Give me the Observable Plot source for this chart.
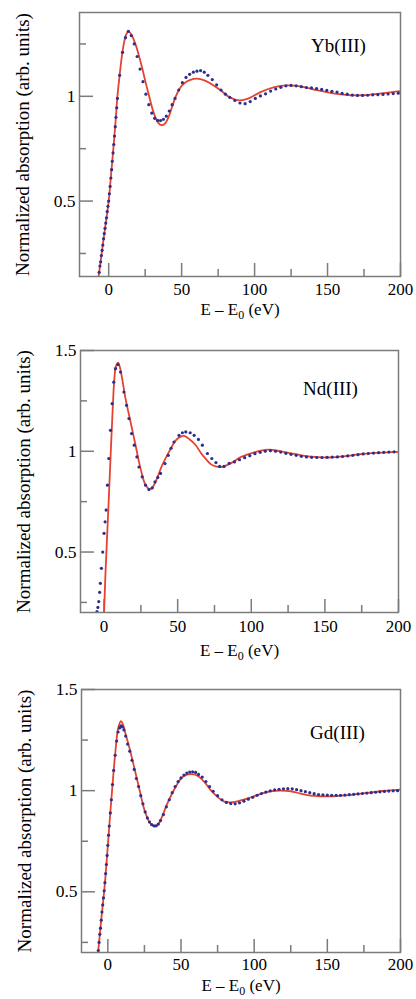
<!DOCTYPE html>
<html>
<head>
<meta charset="utf-8">
<script src="https://cdn.jsdelivr.net/npm/d3@7"></script>
<script src="https://cdn.jsdelivr.net/npm/@observablehq/plot@0.6"></script>
<style>
  html, body { margin: 0; padding: 0; background: #fff; }
  #chart svg { display: block; }
</style>
</head>
<body>
<div id="chart"></div>
<script>
// ---------- Tick values ----------
const xMajor = [0, 50, 100, 150, 200];
const xMinor = [25, 75, 125, 175];
const yMajorYb = [0.5, 1];
const yMajor = [0.5, 1, 1.5];
const yMinor = [0.25, 0.75, 1.25];

// ---------- Labels ----------
const names = ["Yb(III)", "Nd(III)", "Gd(III)"];
const YLABEL = "Normalized absorption (arb. units)";
const XLABEL = "E \u2013 E0 (eV)";

// ---------- Yb(III): calculation (red line) ----------
const calcE_Yb = [-7.5,-6.9,-4.8,-3,-1.5,0,1.5,3.2,4.5,6,7.5,9,10.5,12,13.7,15.5,18.3,20.5,22.8,25,27.4,30,32,34,36.1,38.5,41.1,43.5,45.7,48.5,51.4,56,60.5,66,70,76.7,83,89.3,96,104,113,122.4,133,143,155,165.8,174,181.7,190,200];
const calcV_Yb = [0.11,0.14,0.25,0.345,0.42,0.50,0.615,0.75,0.86,1.0,1.10,1.19,1.255,1.295,1.31,1.295,1.25,1.20,1.14,1.075,1.01,0.94,0.90,0.873,0.862,0.87,0.902,0.95,0.995,1.035,1.06,1.078,1.084,1.075,1.06,1.029,0.995,0.981,0.99,1.02,1.043,1.052,1.045,1.029,1.013,1.005,1.005,1.01,1.016,1.025];
// ---------- Yb(III): experiment (blue dots) ----------
const expE_Yb = [-6.5,-6,-5.5,-5,-4.5,-4,-3.5,-3,-2.5,-2,-1.5,-1,-0.5,0,0.5,1,1.5,2,2.5,3,3.5,4,4.5,5,5.5,6,
  7.5,9.5,11.5,13.5,15.5,17.5,19.5,21.5,23.5,25.5,27.5,29.5,31.5,33.5,35.5,37.5,39.5,41.5,43.5,45.5,
  48,50.5,53,55.5,58,60.5,63,65.5,68,71,74,77,80,83,86.5,90,93.5,97,100.5,104,
  107.5,111,114.5,118,121.5,125,128.5,132,135.5,139,142.5,146,149.5,153,156.5,160,163.5,167,170.5,174,177.5,181,184.5,188,191.5,195,198.5];
const expV_Yb = [0.16,0.19,0.21,0.24,0.265,0.29,0.32,0.345,0.37,0.395,0.42,0.45,0.475,0.50,0.535,0.57,0.61,0.65,0.69,0.73,0.77,0.81,0.855,0.90,0.945,0.99,
  1.10,1.21,1.28,1.31,1.29,1.25,1.19,1.13,1.07,1.01,0.96,0.92,0.895,0.885,0.884,0.89,0.905,0.93,0.96,0.99,
  1.03,1.065,1.09,1.105,1.115,1.12,1.123,1.115,1.10,1.08,1.055,1.03,1.01,0.995,0.98,0.968,0.965,0.975,0.99,1.002,
  1.012,1.025,1.035,1.043,1.05,1.052,1.05,1.046,1.042,1.04,1.037,1.033,1.028,1.024,1.02,1.014,1.01,1.006,1.004,1.004,1.005,1.007,1.008,1.009,1.011,1.013,1.015];

// ---------- Nd(III): calculation ----------
const calcE_Nd = [-0.5,0,1,2,3,4,5,6,7,8,9.5,11,12.3,14.6,18,21.4,24.8,28.2,30.9,33,35,39.5,44.1,48.7,51.5,54.3,58,62.3,66,69.1,72.7,75.9,79.5,86,93.2,102,111.4,120,127,134,143,152.3,160,168.3,176,184,192,200];
const calcV_Nd = [0.12,0.20,0.40,0.565,0.73,0.90,1.07,1.23,1.36,1.42,1.44,1.41,1.36,1.261,1.145,1.03,0.914,0.832,0.812,0.822,0.848,0.931,0.997,1.054,1.07,1.076,1.06,1.03,0.989,0.962,0.935,0.925,0.922,0.94,0.972,0.995,1.008,1.0,0.99,0.98,0.972,0.969,0.973,0.98,0.987,0.992,0.995,0.997];
// ---------- Nd(III): experiment ----------
const expE_Nd = [-4.8,-4.2,-3.6,-3,-2.5,-1.8,-0.9,0,0.7,1.4,2.3,3.2,4.4,5.5,6.6,7.8,9.5,11.2,13.5,15.3,
  16.9,18.7,20.5,22.3,23.7,25.9,28.2,30.5,32.7,34.6,36.5,38.4,41.4,43.6,45.5,47.5,50.9,53.2,55.5,58.5,
  61.2,64.1,66.8,70.2,73.2,76,78.5,81.5,85,88.6,92,95.5,99,102.5,106,109.5,113,116.5,120,123.5,
  127,130.5,134,137.5,141,144.5,148,151.5,155,158.5,162,165.5,169,172.5,176,179.5,183,186.5,190,193.5,197];
const expV_Nd = [0.205,0.225,0.254,0.30,0.345,0.419,0.50,0.593,0.65,0.708,0.832,0.964,1.104,1.236,1.343,1.41,1.43,1.393,1.294,1.228,
  1.162,1.088,1.03,0.972,0.922,0.873,0.832,0.81,0.818,0.848,0.87,0.89,0.939,0.98,1.015,1.046,1.079,1.092,1.096,1.092,
  1.079,1.059,1.03,0.989,0.964,0.944,0.925,0.925,0.94,0.947,0.958,0.968,0.978,0.988,0.995,1.0,1.003,1.0,0.996,0.99,
  0.985,0.98,0.975,0.972,0.97,0.969,0.969,0.97,0.971,0.972,0.974,0.977,0.98,0.983,0.987,0.989,0.991,0.993,0.995,0.996,0.997];

// ---------- Gd(III): calculation ----------
const calcE_Gd = [-7.5,-6.6,-4.4,-2.1,-0.3,1.4,3.2,5.2,7.1,8.9,10.2,11.6,13.3,15,18.5,21.9,25.3,28.8,32.2,34.5,36.7,41.3,45.9,50.4,54,57.3,60.5,63.2,66.5,70,73.3,79.2,84,88.4,94,99.7,105,111.2,118,124.9,131,138.6,146,154.5,163,172.8,180,186.5,193,200];
const calcV_Gd = [0.13,0.204,0.37,0.535,0.70,0.865,1.03,1.195,1.31,1.343,1.33,1.294,1.25,1.205,1.10,0.997,0.898,0.84,0.823,0.835,0.865,0.947,1.013,1.063,1.079,1.082,1.076,1.063,1.038,1.005,0.98,0.947,0.942,0.947,0.958,0.972,0.985,0.997,1.0,0.997,0.987,0.975,0.972,0.972,0.977,0.985,0.991,0.997,1.001,1.005];
// ---------- Gd(III): experiment ----------
const expE_Gd = [-6.5,-6,-5.5,-5,-4.5,-4,-3.5,-3,-2.5,-2,-1.5,-1,-0.5,0,0.5,1,1.7,2.4,3.2,4,
  5,6,7,8,9,10,11,12.2,13.5,15,16.5,18,19.5,21,22.5,24,25.5,27,28.5,30,
  31.5,33,34.5,36,38,40,42,44,46,48,50,52,54,56,58,60,62,64.5,67,69.5,
  72,75,78,81,84,87,90,93,96,99,102,105,108,111,114,117,120,123,126,129,
  132,135,138,141,144,147,150,153,156,159,162,165,168,171,174,177,180,183,186,189,192,195,198];
const expV_Gd = [0.21,0.25,0.29,0.32,0.36,0.40,0.435,0.47,0.505,0.545,0.59,0.635,0.68,0.73,0.78,0.825,0.89,0.955,1.03,1.10,
  1.175,1.245,1.29,1.31,1.32,1.315,1.30,1.27,1.23,1.195,1.15,1.105,1.06,1.02,0.975,0.935,0.895,0.865,0.845,0.832,
  0.826,0.826,0.835,0.852,0.882,0.92,0.955,0.99,1.02,1.045,1.063,1.077,1.087,1.092,1.093,1.09,1.08,1.067,1.045,1.02,
  0.997,0.975,0.955,0.942,0.936,0.935,0.94,0.948,0.958,0.967,0.977,0.986,0.993,0.999,1.004,1.007,1.009,1.01,1.009,1.005,
  1.0,0.995,0.99,0.985,0.981,0.979,0.978,0.977,0.977,0.977,0.978,0.98,0.982,0.984,0.986,0.988,0.99,0.992,0.994,0.996,0.998,0.999,1.0];

// ---------- Styling ----------
const SERIF = "'Liberation Serif', 'Times New Roman', Times, serif";
const GRAY = "#7b7b7b";
const RED = "#e5432f";
const BLUE = "#2c2f8e";

function zip(E, V) { return E.map((e, i) => ({e, v: V[i]})); }

function panel(cfg) {
  const width = 416;
  const ih = cfg.height - cfg.mt - cfg.mb;
  const iw = width - cfg.ml - cfg.mr;
  const svg = Plot.plot({
    width, height: cfg.height,
    marginTop: cfg.mt, marginBottom: cfg.mb, marginLeft: cfg.ml, marginRight: cfg.mr,
    x: {domain: cfg.xDomain, label: null},
    y: {domain: cfg.yDomain, label: null},
    style: {fontFamily: SERIF, background: "white", color: "black", overflow: "visible"},
    marks: [
      Plot.ruleX(xMajor, {insetTop: ih - 13, stroke: GRAY, strokeWidth: 1.5}),
      Plot.ruleX(xMinor, {insetTop: ih - 7, stroke: GRAY, strokeWidth: 1.5}),
      Plot.ruleY(cfg.yMajor, {insetRight: iw - 14, stroke: GRAY, strokeWidth: 1.5}),
      Plot.ruleY(yMinor.filter(d => d > cfg.yDomain[0] && d < cfg.yDomain[1]), {insetRight: iw - 7, stroke: GRAY, strokeWidth: 1.5}),
      Plot.axisX({ticks: xMajor, tickSize: 0, tickPadding: cfg.xPad, fontSize: 17, tickFormat: d => String(d), label: null, fill: "black"}),
      Plot.axisY({ticks: cfg.yMajor, tickSize: 0, tickPadding: 4, fontSize: 17.5, tickFormat: d => String(d), label: null, fill: "black"}),
      Plot.line(zip(cfg.calcE, cfg.calcV), {x: "e", y: "v", stroke: RED, strokeWidth: 1.8, curve: "catmull-rom", clip: true}),
      Plot.dot(zip(cfg.expE, cfg.expV), {x: "e", y: "v", r: 1.6, fill: BLUE, stroke: "none", clip: true}),
      Plot.frame({stroke: GRAY, strokeWidth: 1.5}),
      Plot.text([cfg.name], {frameAnchor: "top-right", dx: cfg.nameDx, dy: cfg.nameDy, textAnchor: "middle", lineAnchor: "middle", fontSize: 19, fill: "black"}),
      Plot.text([YLABEL], {frameAnchor: "left", rotate: -90, dx: -57, textAnchor: "middle", lineAnchor: "middle", fontSize: 19, fill: "black"}),
      Plot.text([XLABEL], {frameAnchor: "bottom", dy: cfg.xlabDy, textAnchor: "middle", lineAnchor: "middle", fontSize: 17, fill: "black"})
    ]
  });
  // subscript 0 in the x label
  svg.querySelectorAll("text").forEach(t => {
    if (t.textContent === XLABEL) {
      t.textContent = "";
      const ns = "http://www.w3.org/2000/svg";
      const a = document.createElementNS(ns, "tspan"); a.textContent = "E \u2013 E";
      const b = document.createElementNS(ns, "tspan"); b.textContent = "0"; b.setAttribute("dy", "4"); b.setAttribute("font-size", "12");
      const c = document.createElementNS(ns, "tspan"); c.textContent = " (eV)"; c.setAttribute("dy", "-4");
      t.append(a, b, c);
    }
  });
  return svg;
}

const root = document.getElementById("chart");
root.append(panel({
  name: names[0], height: 330, mt: 12, mb: 54, ml: 79, mr: 16,
  xDomain: [-20, 200], yDomain: [0.14, 1.4], yMajor: yMajorYb,
  calcE: calcE_Yb, calcV: calcV_Yb, expE: expE_Yb, expV: expV_Yb,
  nameDx: -62, nameDy: 33, xlabDy: 33, xPad: 6
}));
root.append(panel({
  name: names[1], height: 340, mt: 20, mb: 58, ml: 80, mr: 18,
  xDomain: [-16, 200], yDomain: [0.2, 1.5], yMajor: yMajor,
  calcE: calcE_Nd, calcV: calcV_Nd, expE: expE_Nd, expV: expV_Nd,
  nameDx: -68, nameDy: 38, xlabDy: 38, xPad: 7
}));
root.append(panel({
  name: names[2], height: 329, mt: 19, mb: 47, ml: 81, mr: 16,
  xDomain: [-18, 200], yDomain: [0.2, 1.5], yMajor: yMajor,
  calcE: calcE_Gd, calcV: calcV_Gd, expE: expE_Gd, expV: expV_Gd,
  nameDx: -63, nameDy: 43, xlabDy: 33, xPad: 5
}));
</script>
</body>
</html>
